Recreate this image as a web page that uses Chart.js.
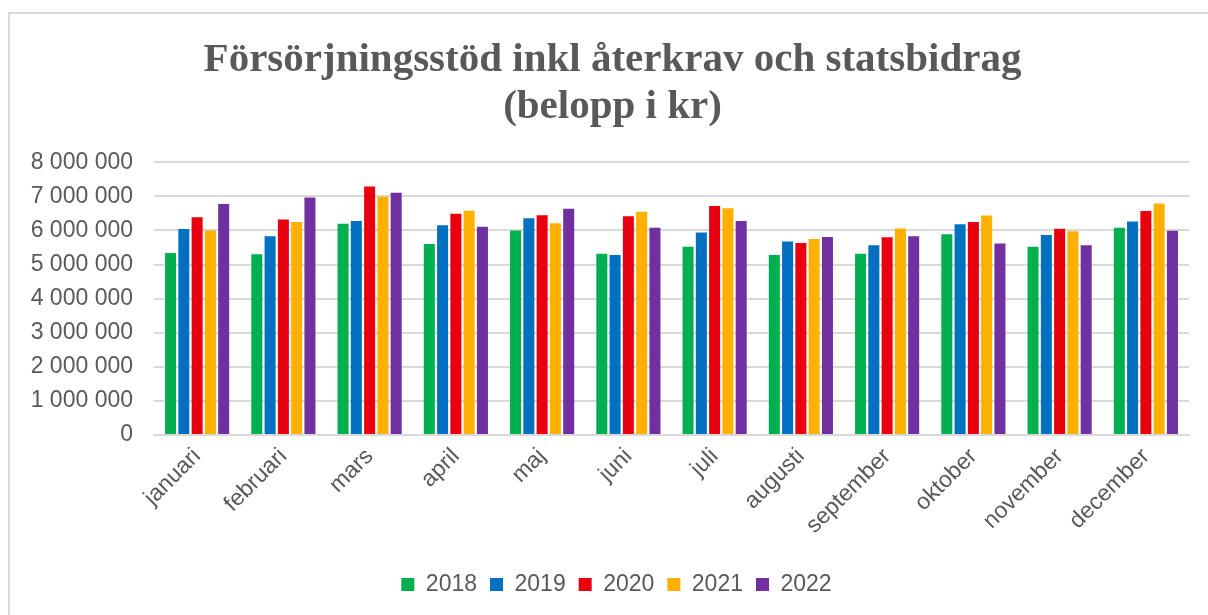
<!DOCTYPE html>
<html lang="sv">
<head>
  <meta charset="UTF-8">
  <title>Försörjningsstöd</title>
  <script src="https://cdn.jsdelivr.net/npm/chart.js"></script>
  <style>
    body {
      margin: 0;
      background-color: #ffffff;
      overflow: hidden;
    }

    .frame {
      position: absolute;
      left: 8px;
      top: 12px;
      width: 1220px;
      height: 620px;
      border: 2px solid #d9d9d9;
    }

    .wrap {
      position: absolute;
      left: 0;
      top: 0;
      width: 1208px;
      height: 615px;
    }
  </style>
</head>
<body>
  <div class="frame"></div>
  <div class="wrap"><canvas id="stodChart"></canvas></div>

  <script>
    const months = ['januari', 'februari', 'mars', 'april', 'maj', 'juni', 'juli',
                    'augusti', 'september', 'oktober', 'november', 'december'];

    const y2018 = [5340000, 5300000, 6200000, 5600000, 6000000, 5320000, 5520000, 5280000, 5320000, 5890000, 5520000, 6080000];
    const y2019 = [6040000, 5830000, 6280000, 6150000, 6360000, 5280000, 5940000, 5680000, 5570000, 6180000, 5870000, 6260000];
    const y2020 = [6390000, 6320000, 7290000, 6490000, 6450000, 6420000, 6720000, 5630000, 5800000, 6250000, 6050000, 6570000];
    const y2021 = [6000000, 6250000, 6990000, 6580000, 6210000, 6550000, 6650000, 5750000, 6060000, 6440000, 5980000, 6790000];
    const y2022 = [6780000, 6970000, 7110000, 6110000, 6640000, 6080000, 6280000, 5810000, 5830000, 5620000, 5570000, 5990000];

    const years = ['2018', '2019', '2020', '2021', '2022'];
    const colors = ['#00b050', '#0070c0', '#e8000e', '#ffb000', '#7030a0'];
    const series = [y2018, y2019, y2020, y2021, y2022];

    const textColor = '#595959';
    const gridColor = '#d9d9d9';
    const sans = '"Liberation Sans", Arial, sans-serif';

    // 8 000 000 style labels
    function fmt(v) {
      return String(v).replace(/\B(?=(\d{3})+(?!\d))/g, ' ');
    }

    // title and legend sit a bit right of the plot centre in the original
    const nudge = {
      id: 'nudge',
      afterLayout(chart) {
        chart.titleBlock.left += 36;
        chart.legend.left += 44;
      }
    };

    const ctx = document.getElementById('stodChart').getContext('2d');
    new Chart(ctx, {
      type: 'bar',
      data: {
        labels: months,
        datasets: years.map((y, i) => ({
          label: y,
          data: series[i],
          backgroundColor: colors[i],
          borderWidth: 0,
          categoryPercentage: 0.77,
          barPercentage: 0.83
        }))
      },
      options: {
        responsive: true,
        maintainAspectRatio: false,
        animation: false,
        layout: { padding: { left: 0, right: 19, top: 12, bottom: 9 } },
        plugins: {
          title: {
            display: true,
            text: ['Försörjningsstöd inkl återkrav och statsbidrag', '(belopp i kr)'],
            color: textColor,
            font: { family: '"Liberation Serif", serif', size: 41, weight: 'bold', lineHeight: 1.15 },
            padding: { top: 25, bottom: 31 }
          },
          legend: {
            position: 'bottom',
            labels: {
              color: textColor,
              font: { family: sans, size: 23 },
              boxWidth: 13,
              boxHeight: 13,
              padding: 13
            }
          },
          tooltip: { enabled: false }
        },
        scales: {
          x: {
            grid: { display: false, drawTicks: false },
            border: { color: gridColor, width: 2 },
            ticks: {
              color: textColor,
              font: { family: sans, size: 23 },
              minRotation: 45,
              maxRotation: 45,
              padding: 8
            },
            afterFit: s => { s.height = 125; }
          },
          y: {
            min: 0,
            max: 8000000,
            grid: { color: gridColor, lineWidth: 2, drawTicks: false },
            border: { display: false },
            ticks: {
              stepSize: 1000000,
              color: textColor,
              font: { family: sans, size: 23 },
              padding: 21,
              callback: v => fmt(v)
            },
            afterFit: s => { s.width = 154; }
          }
        }
      },
      plugins: [nudge]
    });
  </script>
</body>
</html>
